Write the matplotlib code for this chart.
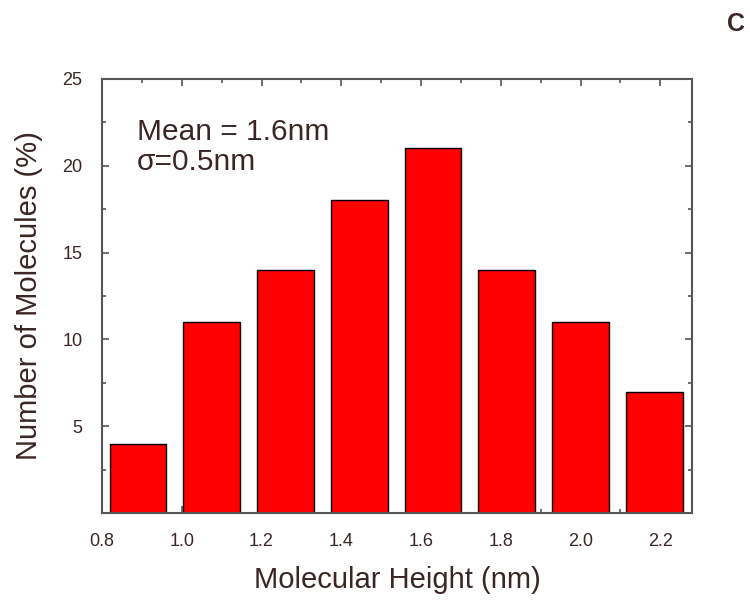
import matplotlib.pyplot as plt
from matplotlib.ticker import MultipleLocator

plt.rcParams['font.family'] = ['Liberation Sans', 'DejaVu Sans']

TEXT_COLOR = '#3b2626'

# histogram bins (nm) and share of molecules (%)
heights = [0.89, 1.075, 1.26, 1.445, 1.63, 1.815, 2.0, 2.185]
percent = [4, 11, 14, 18, 21, 14, 11, 7]
x_ticks = [0.8, 1.0, 1.2, 1.4, 1.6, 1.8, 2.0, 2.2]
y_ticks = [5, 10, 15, 20, 25]

fig = plt.figure(figsize=(7.5, 6.01), dpi=100)
ax = fig.add_axes([0.136, 0.146, 0.787, 0.723])

ax.bar(heights, percent, width=0.142, color='#ff0000', edgecolor='black', linewidth=1.0, zorder=2)

ax.set_xlim(0.8, 2.28)
ax.set_ylim(0, 25)
ax.set_xticks(x_ticks)
ax.set_xticklabels([f'{v:.1f}' for v in x_ticks])
ax.set_yticks(y_ticks)
ax.xaxis.set_minor_locator(MultipleLocator(0.1))
ax.yaxis.set_minor_locator(MultipleLocator(2.5))

ax.tick_params(which='both', direction='in', top=True, right=True, colors='#555555',
               labelcolor=TEXT_COLOR, labelsize=13, width=1.2)
ax.tick_params(which='major', length=5, pad=14)
ax.tick_params(which='minor', length=3)
for side in ax.spines.values():
    side.set_linewidth(1.5)
    side.set_color('#555555')

ax.set_xlabel('Molecular Height (nm)', fontsize=21, color=TEXT_COLOR, labelpad=12)
ax.set_ylabel('Number of Molecules (%)', fontsize=21, color=TEXT_COLOR, labelpad=14)

ax.text(0.059, 0.859, 'Mean = 1.6nm', transform=ax.transAxes, fontsize=21.5, color=TEXT_COLOR)
ax.text(0.059, 0.790, 'σ=0.5nm', transform=ax.transAxes, fontsize=21.5, color=TEXT_COLOR)

fig.text(0.982, 0.96, 'C', fontsize=18, fontweight='bold', color=TEXT_COLOR, ha='center', va='center')

fig.savefig('out.png', dpi=100)
